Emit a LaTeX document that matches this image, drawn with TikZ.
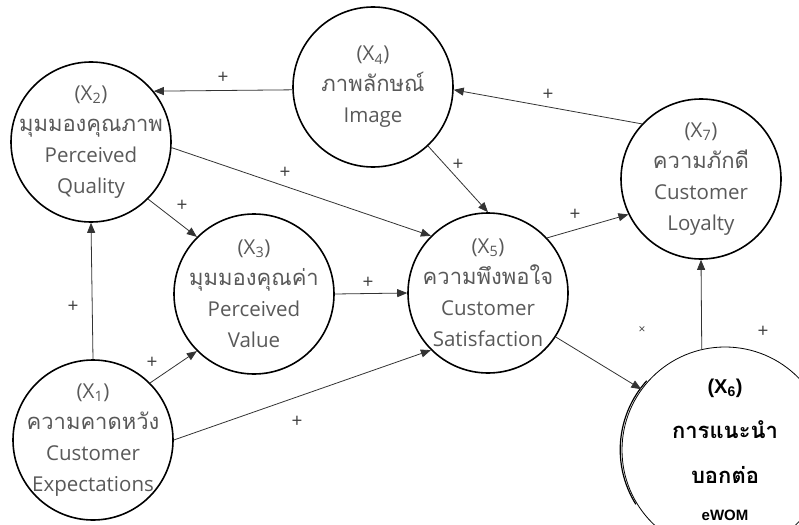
\documentclass[tikz,border=0pt]{standalone}
\usepackage{fontspec}
\setmainfont{Open Sans}
\newfontfamily\thaifont[Script=Thai]{Loma}
\newfontfamily\boldsans{Liberation Sans}
\usetikzlibrary{arrows.meta}

\newcommand\thai[1]{{\thaifont\fontsize{22}{31}\selectfont #1}}

\begin{document}
\begin{tikzpicture}[
	x=1pt, y=-1pt,
	var/.style={
		draw, line width=1.6pt, circle,
		minimum size=160pt, inner sep=-30pt,
		font=\fontsize{20.5}{31}\selectfont, text=black!65,
		align=center
	},
	arr/.style={-{Triangle[length=10pt, width=8pt]}, line width=0.8pt, black!80},
	sign/.style={font=\fontsize{19}{19}\selectfont, text=black!75, inner sep=0pt},
	]
	\useasboundingbox (0,0) rectangle (799,524);
	
	\node[var] (x2) at (91,142) {(X\textsubscript{2})\\\thai{มุมมองคุณภาพ}\\Perceived\\Quality};
	\node[var] (x4) at (373,87) {(X\textsubscript{4})\\\thai{ภาพลักษณ์}\\Image};
	\node[var] (x7) at (701,179) {(X\textsubscript{7})\\\thai{ความภักดี}\\Customer\\Loyalty};
	\node[var] (x3) at (254,294) {(X\textsubscript{3})\\\thai{มุมมองคุณค่า}\\Perceived\\Value};
	\node[var] (x5) at (488,293) {(X\textsubscript{5})\\\thai{ความพึงพอใจ}\\Customer\\Satisfaction};
	\node[var] (x1) at (93,440) {(X\textsubscript{1})\\\thai{ความคาดหวัง}\\Customer\\Expectations};
	
	% eWOM circle runs off the page, thin line with a doubled left edge
	\node[var, line width=0.8pt, minimum size=206pt, text=black,
		font=\thaifont\bfseries\fontsize{22}{45}\selectfont] (x6) at (725,450)
		{{\boldsans\fontsize{20}{20}\selectfont(X\textsubscript{6})}\\การแนะนำ\\บอกต่อ\\[-8pt]{\boldsans\fontsize{15}{15}\selectfont eWOM}};
	\draw[line width=1.2pt] ([xshift=-1.5pt]x6.138) arc[start angle=138, end angle=212, radius=103pt];
	
	\draw[arr] (x4.182) -- (x2.39);
	\draw[arr] (x7.137) -- (x4.-2);
	\draw[arr] (x4.-47) -- (x5.north);
	\draw[arr] (x2.-4)  -- (x5.135);
	\draw[arr] (x2.-45) -- (x3.135);
	\draw[arr] (x3.east) -- (x5.west);
	\draw[arr] (x5.43)  -- (x7.206);
	\draw[arr] (x5.-33) -- (x6.144);
	\draw[arr] (x6.103) -- (x7.south);
	\draw[arr] (x1.north) -- (x2.south);
	\draw[arr] (x1.45)  -- (x3.225);
	\draw[arr] (x1.east) -- (x5.225);
	
	\node[sign] (s42) at (223,78)  {+};
	\node[sign] (s74) at (548,95)  {+};
	\node[sign] (s45) at (458,165) {+};
	\node[sign] (s25) at (285,173) {+};
	\node[sign] (s23) at (182,206) {+};
	\node[sign] (s35) at (368,283) {+};
	\node[sign] (s57) at (575,215) {+};
	\node[sign, font=\fontsize{12}{12}\selectfont] (s56) at (642,330) {×};
	\node[sign] (s67) at (763,332) {+};
	\node[sign] (s12) at (73,307)  {+};
	\node[sign] (s13) at (152,363) {+};
	\node[sign] (s15) at (297,422) {+};
\end{tikzpicture}
\end{document}
